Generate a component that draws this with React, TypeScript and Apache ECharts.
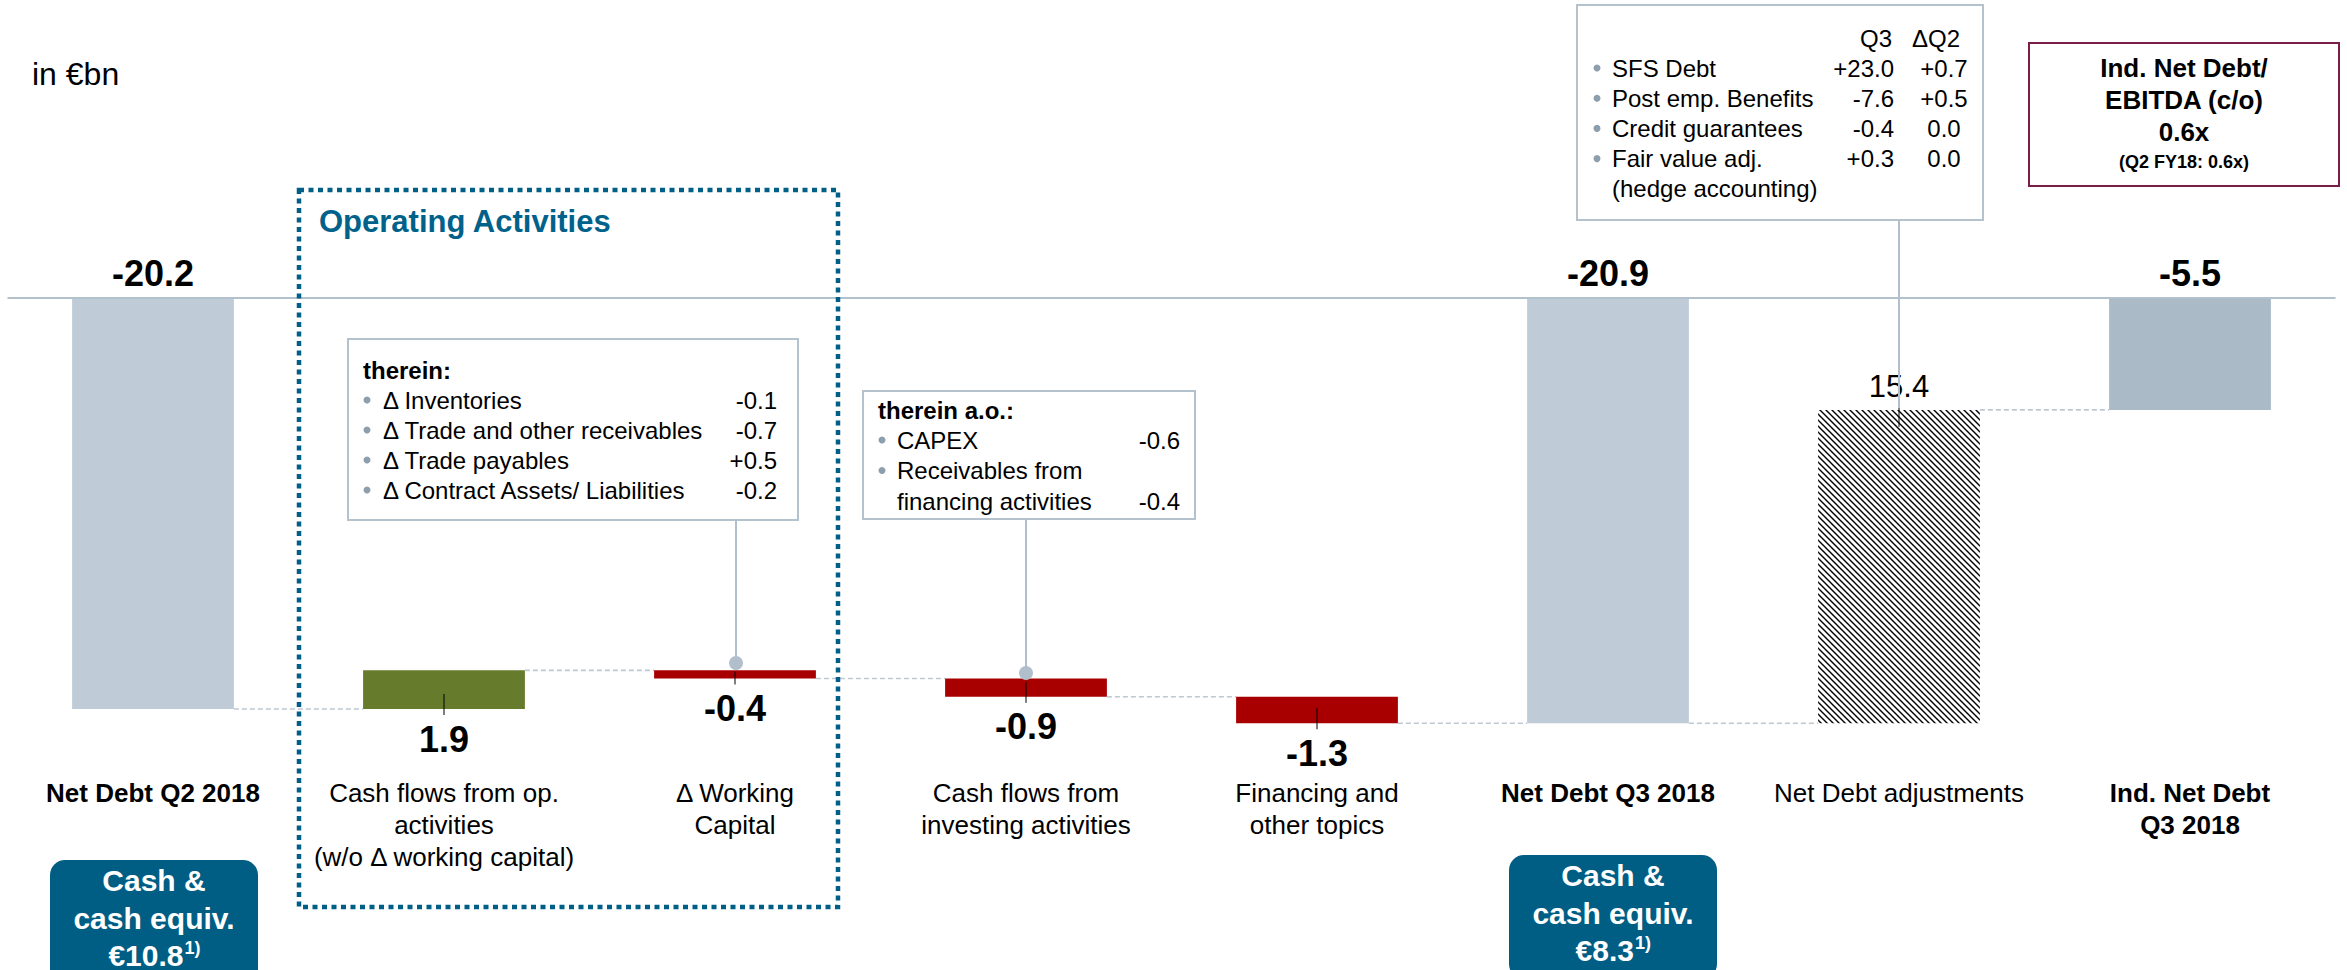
import React, { useEffect, useRef } from 'react';
import * as echarts from 'echarts';

const FONT = '"Liberation Sans", Arial, Helvetica, sans-serif';

// ---- chart data ----
const categories = [
  'Net Debt Q2 2018',
  'Cash flows from op.\nactivities\n(w/o Δ working capital)',
  'Δ Working\nCapital',
  'Cash flows from\ninvesting activities',
  'Financing and\nother topics',
  'Net Debt Q3 2018',
  'Net Debt adjustments',
  'Ind. Net Debt\nQ3 2018',
];
const values = [-20.2, 1.9, -0.4, -0.9, -1.3, -20.9, 15.4, -5.5];
const kinds = ['total', 'delta', 'delta', 'delta', 'delta', 'total', 'adjust', 'result'];

// ---- annotation data ----
const wcItems = ['Δ Inventories', 'Δ Trade and other receivables', 'Δ Trade payables', 'Δ Contract Assets/ Liabilities'];
const wcValues = ['-0.1', '-0.7', '+0.5', '-0.2'];
const invItems = ['CAPEX', 'Receivables from\nfinancing activities'];
const invValues = ['-0.6', '-0.4'];
const adjItems = ['SFS Debt', 'Post emp. Benefits', 'Credit guarantees', 'Fair value adj.\n(hedge accounting)'];
const adjQ3 = ['+23.0', '-7.6', '-0.4', '+0.3'];
const adjDQ2 = ['+0.7', '+0.5', '0.0', '0.0'];
const cashQ2 = '€10.8';
const cashQ3 = '€8.3';
const ratioLines = ['Ind. Net Debt/', 'EBITDA (c/o)', '0.6x'];
const ratioPrev = '(Q2 FY18: 0.6x)';

const BOX_STROKE = '#B4C2CD';
const BULLET = '#8D9EAC';
const TEAL = '#005F87';

function txt(x: number, y: number, text: string, size: number, opts: any = {}) {
  return {
    type: 'text',
    x,
    y,
    z: 20,
    style: {
      text,
      fill: opts.fill || '#000',
      font: `${opts.bold ? 'bold ' : ''}${size}px ${FONT}`,
      align: opts.align || 'left',
      verticalAlign: 'middle',
    },
  };
}
function bullet(x: number, y: number) {
  return { type: 'circle', z: 20, shape: { cx: x, cy: y, r: 3.5 }, style: { fill: BULLET } };
}
function vline(x: number, y1: number, y2: number) {
  return { type: 'line', z: 15, shape: { x1: x, y1, x2: x, y2 }, style: { stroke: '#B0BFCB', lineWidth: 2 } };
}

export default function App() {
  const ref = useRef<HTMLDivElement>(null);

  useEffect(() => {
    const el = ref.current!;
    const chart = echarts.init(el, undefined, { renderer: 'svg' });

    // hatch pattern tile
    const c = document.createElement('canvas');
    c.width = 6;
    c.height = 6;
    const ctx = c.getContext('2d')!;
    ctx.fillStyle = '#fff';
    ctx.fillRect(0, 0, 6, 6);
    ctx.strokeStyle = '#000';
    ctx.lineWidth = 1.4;
    ctx.beginPath();
    ctx.moveTo(-1, -1);
    ctx.lineTo(7, 7);
    ctx.moveTo(-1, 5);
    ctx.lineTo(1, 7);
    ctx.moveTo(5, -1);
    ctx.lineTo(7, 1);
    ctx.stroke();
    const hatch = { image: c.toDataURL(), repeat: 'repeat', imageWidth: 6, imageHeight: 6 };

    // waterfall segments
    const segments: number[][] = [];
    let level = 0;
    values.forEach((v, i) => {
      const k = kinds[i];
      if (k === 'total' || k === 'result') {
        segments.push([i, 0, v]);
        level = v;
      } else {
        const next = Math.round((level + v) * 10) / 10;
        segments.push([i, level, next]);
        level = next;
      }
    });

    const boldCat = kinds.map((k) => k === 'total' || k === 'result');

    const graphic: any[] = [];
    graphic.push(txt(32, 74, 'in €bn', 32));

    // Operating activities dotted frame
    graphic.push({
      type: 'rect',
      z: 5,
      shape: { x: 299, y: 190, width: 539, height: 717 },
      style: { fill: 'none', stroke: TEAL, lineWidth: 4.5, lineDash: [5, 4.5] },
    });
    graphic.push(txt(319, 221, 'Operating Activities', 31, { bold: true, fill: '#00628B' }));

    // Box 1: working capital
    graphic.push({
      type: 'rect', z: 12,
      shape: { x: 348, y: 339, width: 450, height: 181 },
      style: { fill: '#fff', stroke: BOX_STROKE, lineWidth: 2 },
    });
    graphic.push(txt(363, 370, 'therein:', 24, { bold: true }));
    wcItems.forEach((t, k) => {
      const y = 400 + k * 30;
      graphic.push(bullet(367, y));
      graphic.push(txt(383, y, t, 24));
      graphic.push(txt(777, y, wcValues[k], 24, { align: 'right' }));
    });
    graphic.push(vline(736, 520, 660));
    graphic.push({ type: 'circle', z: 16, shape: { cx: 736, cy: 663, r: 7 }, style: { fill: '#B0BFCB' } });

    // Box 2: investing
    graphic.push({
      type: 'rect', z: 12,
      shape: { x: 863, y: 391, width: 332, height: 128 },
      style: { fill: '#fff', stroke: BOX_STROKE, lineWidth: 2 },
    });
    graphic.push(txt(878, 410, 'therein a.o.:', 24, { bold: true }));
    let yy = 440;
    invItems.forEach((t, k) => {
      const lines = t.split('\n');
      graphic.push(bullet(882, yy));
      lines.forEach((l, j) => graphic.push(txt(897, yy + j * 30.5, l, 24)));
      graphic.push(txt(1180, yy + (lines.length - 1) * 30.5, invValues[k], 24, { align: 'right' }));
      yy += lines.length * 30.5;
    });
    graphic.push(vline(1026, 519, 670));
    graphic.push({ type: 'circle', z: 16, shape: { cx: 1026, cy: 673, r: 7 }, style: { fill: '#B0BFCB' } });

    // Box 3: net debt adjustments
    graphic.push({
      type: 'rect', z: 12,
      shape: { x: 1577, y: 5, width: 406, height: 215 },
      style: { fill: '#fff', stroke: BOX_STROKE, lineWidth: 2 },
    });
    graphic.push(txt(1892, 38, 'Q3', 24, { align: 'right' }));
    graphic.push(txt(1936, 38, 'ΔQ2', 24, { align: 'center' }));
    let y3 = 68;
    adjItems.forEach((t, k) => {
      const lines = t.split('\n');
      graphic.push(bullet(1597, y3));
      lines.forEach((l, j) => graphic.push(txt(1612, y3 + j * 30.2, l, 24)));
      graphic.push(txt(1894, y3, adjQ3[k], 24, { align: 'right' }));
      graphic.push(txt(1944, y3, adjDQ2[k], 24, { align: 'center' }));
      y3 += lines.length * 30.2;
    });
    graphic.push(vline(1899, 220, 408));

    // Ratio box
    graphic.push({
      type: 'rect', z: 12,
      shape: { x: 2029, y: 43, width: 310, height: 143 },
      style: { fill: '#fff', stroke: '#7A1E48', lineWidth: 2 },
    });
    ratioLines.forEach((l, k) => graphic.push(txt(2184, 68 + k * 32, l, 26, { bold: true, align: 'center' })));
    graphic.push(txt(2184, 162, ratioPrev, 18, { bold: true, align: 'center' }));

    // Cash boxes
    const cashBox = (x: number, y: number, w: number, amount: string, amountW: number) => {
      graphic.push({
        type: 'rect', z: 12,
        shape: { x, y, width: w, height: 124, r: 15 },
        style: { fill: '#005E84' },
      });
      const cx = x + w / 2;
      graphic.push(txt(cx, y + 20, 'Cash &', 30, { bold: true, fill: '#fff', align: 'center' }));
      graphic.push(txt(cx, y + 58, 'cash equiv.', 30, { bold: true, fill: '#fff', align: 'center' }));
      const split = cx + (amountW + 16) / 2 - 16;
      graphic.push(txt(split, y + 95, amount, 30, { bold: true, fill: '#fff', align: 'right' }));
      graphic.push(txt(split + 1, y + 88, '1)', 18, { bold: true, fill: '#fff', align: 'left' }));
    };
    cashBox(50, 860, 208, cashQ2, 75);
    cashBox(1509, 855, 208, cashQ3, 58);

    const option: any = {
      animation: false,
      backgroundColor: '#fff',
      grid: { left: 7.5, top: 298, width: 2328, height: 468, containLabel: false },
      xAxis: {
        type: 'category',
        data: categories,
        axisLine: { show: false },
        axisTick: { show: false },
        splitLine: { show: false },
        axisLabel: {
          interval: 0,
          margin: 11,
          formatter: (value: string, idx: number) => {
            const tag = boldCat[idx] ? 'b' : 'r';
            return value
              .split('\n')
              .map((l) => `{${tag}|${l}}`)
              .join('\n');
          },
          rich: {
            b: { fontFamily: FONT, fontSize: 26, fontWeight: 'bold', lineHeight: 32, color: '#000' },
            r: { fontFamily: FONT, fontSize: 26, lineHeight: 32, color: '#000' },
          },
        },
      },
      yAxis: {
        type: 'value',
        min: -23,
        max: 0,
        show: false,
        splitLine: { show: false },
      },
      graphic,
      series: [
        {
          type: 'custom',
          z: 3,
          data: segments,
          encode: { x: 0, y: [1, 2] },
          renderItem: (params: any, api: any) => {
            const i = api.value(0) as number;
            const s = api.value(1) as number;
            const e = api.value(2) as number;
            const kind = kinds[i];
            const band = api.size([1, 0])[0];
            const bw = band * 0.556;
            const ps = api.coord([i, s]);
            const pe = api.coord([i, e]);
            const cx = ps[0];
            const top = Math.min(ps[1], pe[1]);
            const bot = Math.max(ps[1], pe[1]);
            const h = bot - top;
            let fill: any;
            if (kind === 'total') fill = '#BFCCD7';
            else if (kind === 'result') fill = '#AABBC7';
            else if (kind === 'adjust') fill = hatch;
            else fill = e > s ? '#667B2C' : '#A80000';
            const children: any[] = [
              { type: 'rect', shape: { x: cx - bw / 2, y: top, width: bw, height: h }, style: { fill } },
            ];
            if (i < categories.length - 1) {
              const nx = api.coord([i + 1, e])[0];
              children.push({
                type: 'line',
                shape: { x1: cx + bw / 2, y1: pe[1], x2: nx - bw / 2, y2: pe[1] },
                style: { stroke: '#BEC8D2', lineWidth: 1.6, lineDash: [5, 3] },
              });
            }
            const label = values[i].toFixed(1);
            if (kind === 'delta') {
              children.push({
                type: 'line',
                shape: { x1: cx, y1: bot - Math.min(15, h - 1), x2: cx, y2: bot + 6 },
                style: { stroke: '#000', lineWidth: 1 },
              });
              children.push({
                type: 'text', x: cx, y: bot + 30,
                style: { text: label, font: `bold 36px ${FONT}`, fill: '#000', align: 'center', verticalAlign: 'middle' },
              });
            } else if (kind === 'adjust') {
              children.push({
                type: 'line',
                shape: { x1: cx, y1: top - 5, x2: cx, y2: top + 17 },
                style: { stroke: '#000', lineWidth: 1 },
              });
              children.push({
                type: 'text', x: cx, y: top - 23,
                style: { text: label, font: `31px ${FONT}`, fill: '#000', align: 'center', verticalAlign: 'middle' },
              });
            } else {
              children.push({
                type: 'text', x: cx, y: top - 25,
                style: { text: label, font: `bold 36px ${FONT}`, fill: '#000', align: 'center', verticalAlign: 'middle' },
              });
            }
            return { type: 'group', children };
          },
        },
        {
          type: 'custom',
          z: 4,
          data: [[0, 0]],
          renderItem: (params: any, api: any) => {
            const cs = params.coordSys;
            const y = api.coord([0, 0])[1];
            return {
              type: 'line',
              shape: { x1: cs.x, y1: y, x2: cs.x + cs.width, y2: y },
              style: { stroke: '#B3C1CC', lineWidth: 2 },
            };
          },
        },
      ],
    };

    chart.setOption(option);
    return () => chart.dispose();
  }, []);

  return (
    <div
      ref={ref}
      style={{ position: 'absolute', left: 0, top: 0, width: 2347, height: 970, background: '#fff' }}
    />
  );
}
